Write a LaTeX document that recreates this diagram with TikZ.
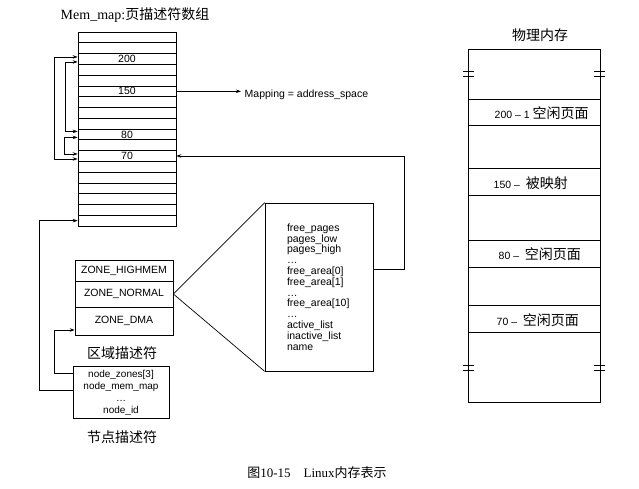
\documentclass[tikz,border=0pt]{standalone}
\usepackage{fontspec}
\setmainfont{Liberation Serif}
\setsansfont{Liberation Sans}
\newfontfamily\cjk{Noto Sans CJK SC}
\usetikzlibrary{arrows.meta}

\begin{document}
\begin{tikzpicture}[x=1pt, y=-1pt, line width=0.7pt,
  >={Stealth[length=5pt,width=3.5pt]},
  txt/.style={font=\sffamily\fontsize{10.5}{10.8}\selectfont},
  big/.style={font=\fontsize{14}{16}\selectfont},
  cell/.style={draw, minimum width=98pt, minimum height=10.78pt, inner sep=0pt, txt},
  zone/.style={draw, minimum width=98pt, inner sep=0pt, txt},
  brk/.style={line width=0.5pt}]
  \useasboundingbox (0,0) rectangle (639,489);

  \node[big] (maptitle) at (135,15) {Mem\_map:{\cjk 页描述符数组}};
  \foreach \i/\t in {0/,1/,2/200,3/,4/,5/150,6/,7/,8/,9/80,10/,11/70,12/,13/,14/,15/,16/,17/}
    \node[cell] (r\i) at (127,37.39+10.78*\i) {\t};

  \node[txt, anchor=west] (mapping) at (241,95) {Mapping = address\_space};
  \draw[->] (r5.east) -- (r5.east -| mapping.west);

  \draw[<->] ([yshift=2pt]r2.west) -- ++(-23,0) |- ([yshift=-3pt]r11.west);
  \draw[<->] ([yshift=-3pt]r2.west) -- ++(-12,0) |- ([yshift=3pt]r9.west);
  \draw[<->] ([yshift=-3pt]r9.west) -- ++(-13,0) |- ([yshift=2pt]r11.west);

  \node[zone, minimum height=21pt] (zhigh) at (124,270.5) {ZONE\_HIGHMEM};
  \node[zone, minimum height=26pt] (znormal) at (124,294) {ZONE\_NORMAL};
  \node[zone, minimum height=28pt] (zdma) at (124,321) {ZONE\_DMA};
  \node[big] (zonelbl) at (122,353) {\cjk 区域描述符};

  \node[draw, txt, minimum width=96pt, minimum height=45pt, align=center,
    font=\sffamily\fontsize{10}{12}\selectfont] (nodedesc) at (121,392.5)
    {node\_zones[3]\\node\_mem\_map\\\dots\\node\_id};
  \node[big] (nodelbl) at (122,437) {\cjk 节点描述符};

  \draw[->] ([yshift=2.5pt]nodedesc.west) -- ++(-33,0) |- (r17.west);
  \draw[->] ([yshift=19.5pt]nodedesc.west) -- ++(-18,0) |- ([yshift=-9pt]zdma.west);

  \node[draw, txt, minimum width=108pt, minimum height=168pt, inner sep=0pt,
    text width=64pt, align=left] (fields) at (319,287)
    {free\_pages\\pages\_low\\pages\_high\\\dots\\free\_area[0]\\free\_area[1]\\\dots\\
     free\_area[10]\\\dots\\active\_list\\inactive\_list\\name};
  \draw (znormal.east) -- (fields.north west);
  \draw (znormal.east) -- (fields.south west);
  \draw[->] ([yshift=18pt]fields.east) -- ++(31,0) |- (r11.east);

  \node[big] (physlbl) at (540,35) {\cjk 物理内存};
  \draw (468,49) rectangle (600,402);
  \foreach \y in {99,125,168,195,240,267,305,332}
    \draw (468,\y) -- (600,\y);
  \foreach \y in {71,365} {
    \draw[brk] (463,\y) -- (474,\y) (463,\y+5) -- (474,\y+5);
    \draw[brk] (594,\y) -- (605,\y) (594,\y+5) -- (605,\y+5);
  }
  \node[txt, anchor=west] (m200) at (491,113) {200 -- 1 {\cjk\fontsize{14}{16}\selectfont 空闲页面}};
  \node[txt, anchor=west] (m150) at (490,183) {150 --\ \ {\cjk\fontsize{14}{16}\selectfont 被映射}};
  \node[txt, anchor=west] (m80) at (495,254) {80 --\ \ {\cjk\fontsize{14}{16}\selectfont 空闲页面}};
  \node[txt, anchor=west] (m70) at (493,320) {70 --\ \ {\cjk\fontsize{14}{16}\selectfont 空闲页面}};

  \node[font=\fontsize{13}{15}\selectfont] (caption) at (317,473)
    {{\cjk 图}10-15\quad Linux{\cjk 内存表示}};
\end{tikzpicture}
\end{document}
